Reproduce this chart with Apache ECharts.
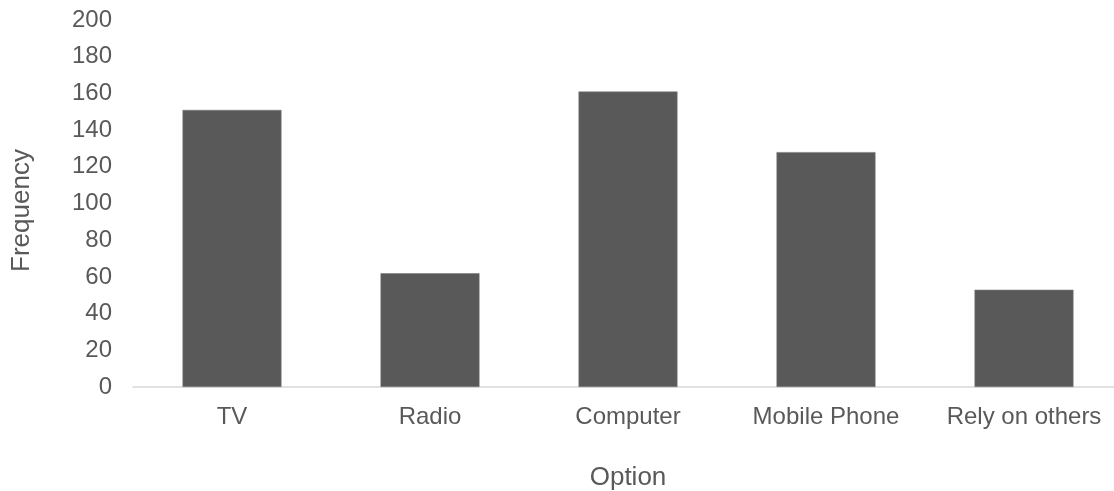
<!DOCTYPE html>
<html>
<head>
<meta charset="utf-8">
<script src="https://cdn.jsdelivr.net/npm/echarts@6/dist/echarts.min.js"></script>
<style>
  html, body { margin: 0; padding: 0; background: #ffffff; }
  #chart { width: 1114px; height: 491px; }
</style>
</head>
<body>
<div id="chart"></div>
<script>
// Frequency of each information source option
const categories = ['TV', 'Radio', 'Computer', 'Mobile Phone', 'Rely on others'];
const frequencies = [151, 62, 161, 128, 53];

const FONT = '"Liberation Sans", Arial, sans-serif';
const TEXT = '#595959';

const chart = echarts.init(document.getElementById('chart'), null, { renderer: 'canvas' });
chart.setOption({
  animation: false,
  backgroundColor: '#ffffff',
  grid: {
    left: 133, right: -9, top: 20, bottom: 104,
    containLabel: false,
    outerBoundsMode: 'none'
  },
  xAxis: {
    type: 'category',
    data: categories,
    name: 'Option',
    nameLocation: 'middle',
    nameGap: 78,
    nameTextStyle: { color: TEXT, fontSize: 26, fontFamily: FONT },
    axisLine: { show: true, lineStyle: { color: '#d9d9d9', width: 1.5 } },
    axisTick: { show: false },
    axisLabel: { color: TEXT, fontSize: 24, fontFamily: FONT, margin: 18, interval: 0 }
  },
  yAxis: {
    type: 'value',
    min: 0,
    max: 200,
    interval: 20,
    name: 'Frequency',
    nameLocation: 'middle',
    nameGap: 98,
    nameRotate: 90,
    // extra right padding nudges the rotated title slightly downward
    nameTextStyle: { color: TEXT, fontSize: 26, fontFamily: FONT, padding: [0, 14, 0, 0] },
    axisLine: { show: false },
    axisTick: { show: false },
    splitLine: { show: false },
    axisLabel: { color: TEXT, fontSize: 24, fontFamily: FONT, margin: 21 }
  },
  series: [{
    type: 'bar',
    data: frequencies,
    barWidth: '50%',
    itemStyle: { color: '#595959', borderColor: '#7a7a7a', borderWidth: 0.6 }
  }]
});
</script>
</body>
</html>
